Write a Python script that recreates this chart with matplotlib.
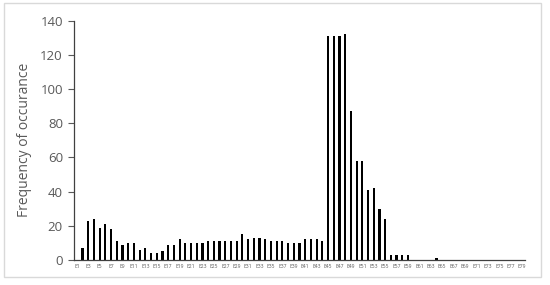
import matplotlib
matplotlib.use("Agg")
import matplotlib.pyplot as plt
from matplotlib.patches import Rectangle

categories = [f"E{i}" for i in range(1, 80)]
values = [0, 7, 23, 24, 19, 21, 18, 11, 9, 10,
          10, 6, 7, 4, 4, 5, 9, 9, 12, 10,
          10, 10, 10, 11, 11, 11, 11, 11, 11, 15,
          12, 13, 13, 12, 11, 11, 11, 10, 10, 10,
          12, 12, 12, 11, 131, 131, 131, 132, 87, 58,
          58, 41, 42, 30, 24, 3, 3, 3, 3, 0,
          0, 0, 0, 1, 0, 0, 0, 0, 0, 0,
          0, 0, 0, 0, 0, 0, 0, 0, 0]
y_ticks = [0, 20, 40, 60, 80, 100, 120, 140]

fig = plt.figure(figsize=(5.5, 2.85), dpi=100)
ax = fig.add_axes([74/550, 25/285, 451/550, 239.3/285])

x = list(range(len(categories)))
ax.bar(x, values, width=0.38, color="black")
ax.set_xlim(-0.5, len(categories) - 0.5)
ax.set_ylim(0, 140)
ax.set_yticks(y_ticks)
ax.set_yticklabels([str(v) for v in y_ticks], fontsize=9.5, color="#595959", family="Open Sans")
ax.set_xticks(x[::2])
ax.set_xticklabels(categories[::2], fontsize=3.6, color="#595959", family="Open Sans")
ax.tick_params(axis="x", length=0, pad=3)
ax.tick_params(axis="y", length=4, width=0.8, color="#595959", pad=4)
for s in ["top", "right"]:
    ax.spines[s].set_visible(False)
ax.spines["left"].set_color("#404040")
ax.spines["bottom"].set_color("#404040")
ax.spines["left"].set_linewidth(0.9)
ax.spines["bottom"].set_linewidth(0.9)
ax.set_ylabel("Frequency of occurance", fontsize=10, color="#595959", family="Open Sans", labelpad=6)

fig.patches.append(Rectangle((4/550, 8/285), 537/550, 274/285, transform=fig.transFigure,
                             fill=False, edgecolor="#d9d9d9", linewidth=1))
fig.savefig("out.png", dpi=100)
